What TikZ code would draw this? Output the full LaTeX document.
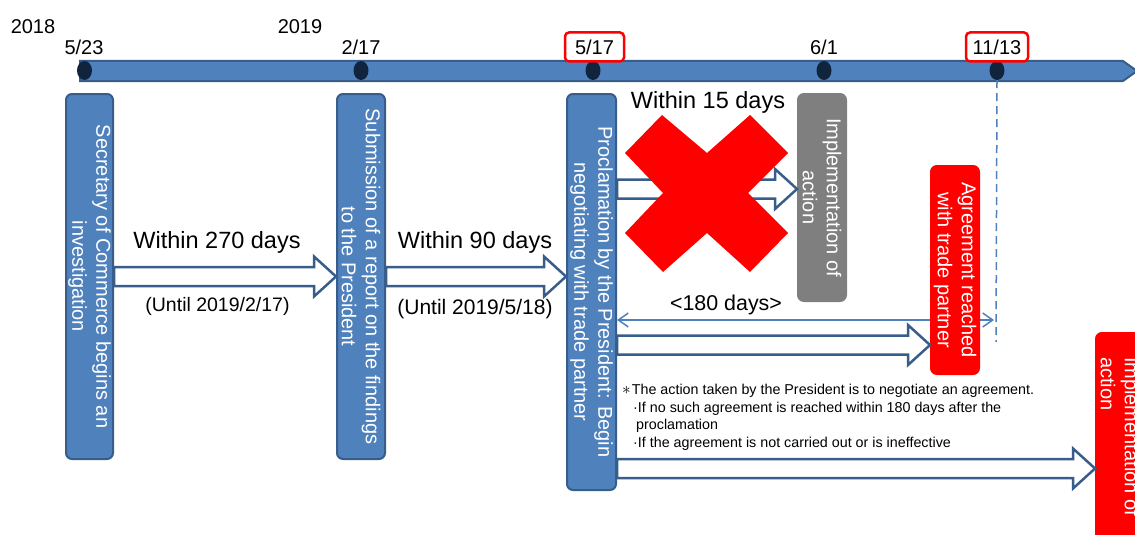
\documentclass[tikz,border=0pt]{standalone}
\usepackage{fontspec}
\setmainfont{Liberation Sans}
\usetikzlibrary{positioning,arrows.meta,calc,backgrounds,shapes.geometric}
\definecolor{barBlue}{RGB}{79,129,189}
\definecolor{barEdge}{RGB}{56,93,138}
\definecolor{dotInk}{RGB}{16,36,62}
\definecolor{stopRed}{RGB}{255,0,0}
\definecolor{offGrey}{RGB}{127,127,127}

% hollow block arrow: from x of #1 to x of #2, at the height of #1
\newcommand\blockarrow[2]{%
  \draw[hollow] let \p1=(#1), \p2=(#2) in
    (\x1,\y1+9.5pt) -- (\x2-22pt,\y1+9.5pt) -- (\x2-22pt,\y1+20pt) -- (\x2,\y1)
    -- (\x2-22pt,\y1-20pt) -- (\x2-22pt,\y1-9.5pt) -- (\x1,\y1-9.5pt) -- cycle;}

\begin{document}
\begin{tikzpicture}[
  x=1pt, y=-1pt,
  >={Straight Barb[length=10pt,width=14pt]},
  stage/.style={rounded corners=6pt, draw=barEdge, line width=2pt, fill=barBlue, text=white, align=center, inner sep=0pt, rotate=-90, font=\fontsize{20}{24}\selectfont},
  offbox/.style={stage, draw=offGrey, fill=offGrey},
  hitbox/.style={stage, draw=stopRed, fill=stopRed},
  dot/.style={ellipse, fill=dotInk, draw=none, minimum width=15pt, minimum height=19pt, inner sep=0pt},
  datelbl/.style={font=\fontsize{20}{24}\selectfont, inner sep=0pt},
  datebox/.style={datelbl, draw=stopRed, line width=2.5pt, rounded corners=4pt, fill=white, minimum width=59pt, minimum height=29pt},
  span/.style={font=\fontsize{23.5}{28}\selectfont, inner sep=0pt},
  until/.style={font=\fontsize{19.5}{24}\selectfont, inner sep=0pt},
  hollow/.style={draw=barEdge, line width=2.5pt, fill=white, line join=miter},
  dashline/.style={draw=barBlue, line width=1.5pt, dash pattern=on 8pt off 5pt},
  spanline/.style={draw=barBlue, line width=1.5pt, <->},
  note/.style={font=\fontsize{14.3}{17.7}\selectfont, align=left, inner sep=0pt},
]
\useasboundingbox (0,0) rectangle (1135,535);

% ---- timeline ----
\draw[draw=barEdge, fill=barBlue, line width=2pt, line join=miter]
  (80,61) -- (1123,61) -- (1137,71) -- (1123,81) -- (80,81) -- cycle;

\node[dot] (d1) at (84.5,70.5) {};
\node[dot] (d2) at (361,70.5) {};
\node[dot] (d3) at (593,70.5) {};
\node[dot] (d4) at (824,70.5) {};
\node[dot] (d5) at (997,70.5) {};

\node[datelbl] (y18) at (33,27) {2018};
\node[datelbl] (y19) at (300,27) {2019};
\node[datelbl] (t1) at (84,47) {5/23};
\node[datelbl] (t2) at (361,47) {2/17};
\node[datebox] (t3) at (594.5,47) {5/17};
\node[datelbl] (t4) at (824,47) {6/1};
\node[datebox, minimum width=62pt] (t5) at (997,47) {11/13};

% ---- stages ----
\node[stage, minimum width=365pt, minimum height=47pt] (inv) at (89.5,276.5)
  {Secretary of Commerce begins an\\investigation};
\node[stage, minimum width=365pt, minimum height=48pt] (rep) at (361,276.5)
  {Submission of a report on the findings\\to the President};
\node[stage, minimum width=396pt, minimum height=49pt] (proc) at (591.5,292)
  {Proclamation by the President: Begin\\negotiating with trade partner};
\node[offbox, minimum width=207pt, minimum height=48pt] (act) at (822,197.5)
  {Implementation of\\action};
\node[hitbox, minimum width=208pt, minimum height=48pt] (agr) at (955,270)
  {Agreement reached\\with trade partner};
\node[hitbox, minimum width=207pt, minimum height=48pt, align=left] (fin) at (1120,436.5)
  {Implementation of\\action};

% ---- deadlines ----
\blockarrow{inv.north}{rep.south}
\blockarrow{rep.north}{proc.south}
\blockarrow{proc.north |- 0,189}{act.south}
\blockarrow{proc.north |- 0,345}{agr.south}
\blockarrow{proc.north |- 0,468.5}{fin.south}

\node[span] (w270) at (217,242) {Within 270 days};
\node[until] (u1) at (217.5,306) {(Until 2019/2/17)};
\node[span] (w90) at (475,242) {Within 90 days};
\node[until, font=\fontsize{21}{25}\selectfont] (u2) at (475,309) {(Until 2019/5/18)};
\node[span] (w15) at (708,102.5) {Within 15 days};

% ---- the struck-out path ----
\fill[stopRed] (625,153) -- (662,115) -- (707,153) -- (750,115) -- (788,153) -- (748,193)
  -- (788,233) -- (750,272) -- (707,233) -- (663,272) -- (625,233) -- (663,193) -- cycle;

% ---- 180 days ----
\coordinate (dl) at (996,342);
\draw[dashline] (d5.south) -- (dl);
\begin{scope}[on background layer]
\draw[spanline] (proc.north |- 0,320) -- ($(dl |- 0,320)+(-2,0)$);
\end{scope}
\node[span, font=\fontsize{21.4}{26}\selectfont] (d180) at (726,305) {<180 days>};

% ---- footnote ----
\node[note, anchor=north west] (fn) at (622,384) {%
  {\fontsize{18}{18}\selectfont$\ast$}\hspace{1pt}The action taken by the President is to negotiate an agreement.\\
  \hspace*{11pt}·If no such agreement is reached within 180 days after the\\
  \hspace*{14pt}proclamation\\
  \hspace*{11pt}·If the agreement is not carried out or is ineffective};

\end{tikzpicture}
\end{document}
